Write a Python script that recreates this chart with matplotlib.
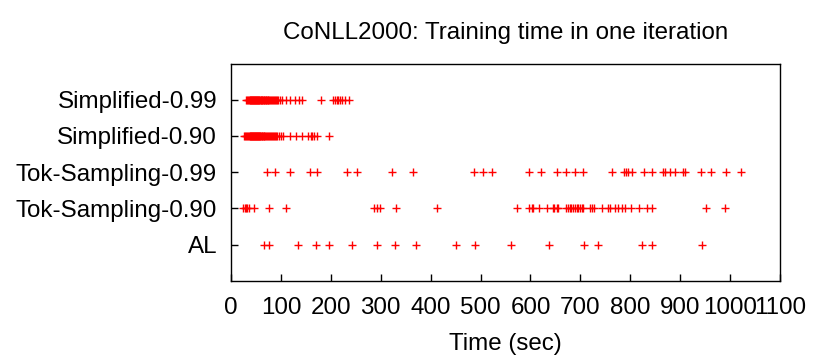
import matplotlib
matplotlib.use('Agg')
import matplotlib.pyplot as plt

# method names, bottom to top
methods = ['AL', 'Tok-Sampling-0.90', 'Tok-Sampling-0.99', 'Simplified-0.90', 'Simplified-0.99']

# training time per iteration (sec)
al = [67, 76, 134, 170, 196, 242, 293, 329, 370, 450, 489, 561,
      638, 708, 735, 824, 843, 944]

tok_090 = [25, 29, 31, 33, 36, 47, 77, 110, 287, 292, 299, 331, 413, 573,
           598, 603, 606, 618, 633, 645, 648, 653, 656, 671, 676, 679, 681,
           685, 689, 693, 696, 699, 703, 706, 719, 723, 727, 743, 756, 760,
           770, 776, 783, 790, 801, 818, 833, 843, 951, 990]

tok_099 = [72, 88, 118, 158, 172, 232, 252, 322, 365, 486, 504, 522,
           598, 621, 653, 671, 689, 706, 763, 788, 792, 796, 803, 828, 843,
           865, 870, 880, 890, 906, 910, 942, 961, 992, 1021]

simp_090 = [27, 29, 31, 33, 35, 37, 38, 39, 40, 41, 42, 43, 44, 45, 46, 47,
            48, 49, 50, 51, 52, 53, 54, 55, 56, 57, 58, 59, 60, 62, 63, 64,
            66, 67, 68, 70, 72, 74, 76, 78, 80, 82, 84, 86, 88, 90, 92, 96,
            100, 105, 118, 130, 143, 155, 160, 163, 167, 172, 196]

simp_099 = [31, 33, 35, 36, 38, 39, 40, 41, 42, 43, 44, 45, 46, 47, 48, 49,
            50, 51, 52, 53, 54, 55, 56, 57, 58, 60, 61, 62, 63, 64, 66, 67,
            68, 70, 71, 72, 74, 75, 77, 78, 80, 82, 84, 86, 88, 90, 92, 95,
            98, 102, 110, 118, 128, 136, 143, 181, 205, 208, 212, 215, 218,
            222, 228, 236]

series = [al, tok_090, tok_099, simp_090, simp_099]

plt.rcParams['font.family'] = ['Liberation Sans', 'DejaVu Sans']
plt.rcParams['font.size'] = 17.4

fig = plt.figure(figsize=(8.13, 3.56), dpi=100)
ax = fig.add_axes([0.2841, 0.2115, 0.6753, 0.6101])

for i, vals in enumerate(series):
    ax.plot(vals, [i + 1] * len(vals), linestyle='none', marker='+',
            color='red', markersize=6.2, markeredgewidth=1.0)

ax.set_xlim(0, 1100)
ax.set_ylim(0, 6)
ax.set_xticks(range(0, 1101, 100))
ax.set_yticks(range(1, 6))
ax.set_yticklabels(methods)

ax.tick_params(axis='x', direction='in', length=5, width=1, pad=12, top=False)
ax.tick_params(axis='y', direction='in', length=5, width=1, pad=10, right=False)
for sp in ax.spines.values():
    sp.set_linewidth(1.0)

ax.set_xlabel('Time (sec)', labelpad=10)
ax.set_title('CoNLL2000: Training time in one iteration', fontsize=17.4, pad=18)

fig.savefig('out.png', dpi=100)
